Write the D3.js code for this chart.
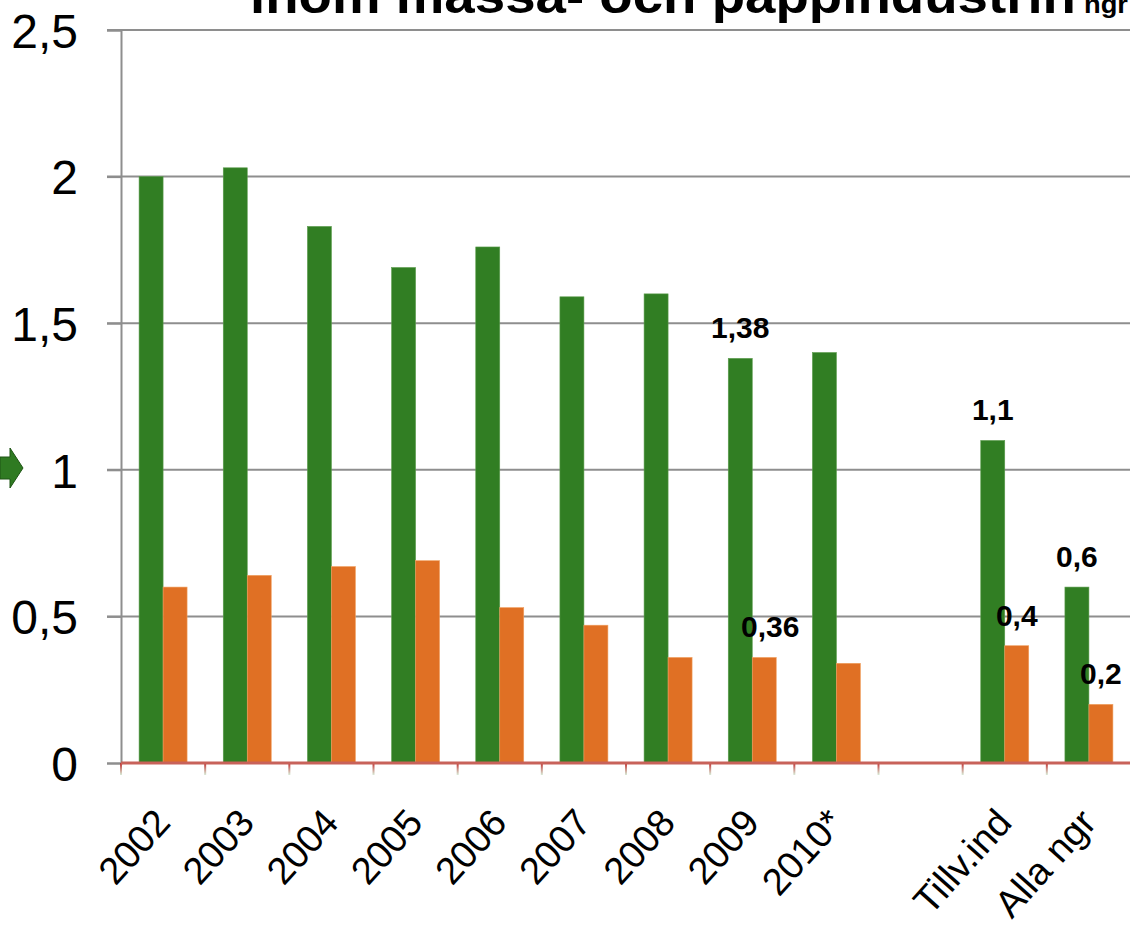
<!DOCTYPE html>
<html><head><meta charset="utf-8">
<script src="https://cdn.jsdelivr.net/npm/d3@7"></script>
<style>body{margin:0;background:#fff}svg{display:block;font-family:Arial,"Liberation Sans",sans-serif}</style>
</head><body>
<svg id="chart" width="1130" height="930"></svg>
<script>
const categories = ["2002","2003","2004","2005","2006","2007","2008","2009","2010*","","Tillv.ind","Alla ngr"];
const greenValues  = [2.00,2.03,1.83,1.69,1.76,1.59,1.60,1.38,1.40,null,1.10,0.60];
const orangeValues = [0.60,0.64,0.67,0.69,0.53,0.47,0.36,0.36,0.34,null,0.40,0.20];
const greenLabels  = [null,null,null,null,null,null,null,"1,38",null,null,"1,1","0,6"];
const orangeLabels = [null,null,null,null,null,null,null,"0,36",null,null,"0,4","0,2"];
const yTickValues  = [0,0.5,1,1.5,2,2.5];
const yTickLabels  = ["0","0,5","1","1,5","2","2,5"];
const titleMain = "inom massa- och pappindustrin";
const titleSub = "ngr";
const seriesKeys = ["green","orange"];
const seriesColors = {green:"#317e23", orange:"#e07024"};

const svg = d3.select("#chart");
const mLeft = 121, mRight = 1131, mTop = 30, mBottom = 763;

const x = d3.scaleBand().domain(categories).range([mLeft, mRight]).padding(0);
const xs = d3.scaleBand().domain(seriesKeys).range([0, x.bandwidth()]).paddingInner(0).paddingOuter(0.754);
const y = d3.scaleLinear().domain([0, 2.5]).range([mBottom, mTop]);

// title (cut off at top, as in the source image)
svg.append("text").attr("x", 250).attr("y", 13)
  .attr("font-size", 50).attr("font-weight", "bold")
  .attr("textLength", 826).attr("lengthAdjust", "spacingAndGlyphs")
  .text(titleMain);
svg.append("text").attr("x", 1084).attr("y", 13)
  .attr("font-size", 26).attr("font-weight", "bold")
  .attr("textLength", 44).attr("lengthAdjust", "spacingAndGlyphs")
  .text(titleSub);

// gridlines
svg.append("g").selectAll("line").data(yTickValues.filter(d => d > 0)).join("line")
  .attr("x1", 107).attr("x2", 1130)
  .attr("y1", d => y(d)).attr("y2", d => y(d))
  .attr("stroke", "#8e8e8e").attr("stroke-width", 2);

// y axis
const yAxis = d3.axisLeft(y).tickValues(yTickValues)
  .tickFormat((d, i) => yTickLabels[i]).tickSize(14).tickPadding(29);
const gy = svg.append("g").attr("transform", `translate(${mLeft},0)`).call(yAxis);
gy.select(".domain").attr("stroke", "#8e8e8e").attr("stroke-width", 2);
gy.selectAll(".tick line").attr("stroke", "#8e8e8e").attr("stroke-width", 2);
gy.selectAll(".tick text").attr("font-size", 48).attr("fill", "#000")
  .attr("font-family", "Arial, 'Liberation Sans', sans-serif").attr("dy", "0.36em");

// bars
const rows = categories.map((c, i) => ({c, green: greenValues[i], orange: orangeValues[i], gl: greenLabels[i], ol: orangeLabels[i]}));
const groups = svg.append("g").selectAll("g").data(rows).join("g")
  .attr("transform", d => `translate(${x(d.c)},0)`);
groups.selectAll("rect").data(d => seriesKeys.map(k => ({k, v: d[k]})).filter(e => e.v != null)).join("rect")
  .attr("x", e => xs(e.k)).attr("width", xs.bandwidth())
  .attr("y", e => y(e.v)).attr("height", e => y(0) - y(e.v))
  .attr("fill", e => seriesColors[e.k])
  .attr("stroke", e => e.k === "green" ? "#5c9c4d" : "#f0a060").attr("stroke-width", 0.6);

// data labels
groups.selectAll("text.lbl").data(d => [{k:"green", v:d.green, t:d.gl},{k:"orange", v:d.orange, t:d.ol}].filter(e => e.t)).join("text")
  .attr("class", "lbl")
  .attr("x", e => xs(e.k) + xs.bandwidth() / 2 + (e.t === "0,36" ? 6 : 0))
  .attr("y", e => y(e.v) - 20)
  .attr("text-anchor", "middle").attr("font-size", 30).attr("font-weight", "bold")
  .text(e => e.t);

// x axis
const xAxis = d3.axisBottom(x).tickSize(0).tickPadding(0);
const gx = svg.append("g").attr("transform", `translate(0,${mBottom})`).call(xAxis);
gx.select(".domain").remove();
gx.selectAll(".tick text").attr("font-size", 38).attr("fill", "#000")
  .attr("font-family", "Arial, 'Liberation Sans', sans-serif")
  .attr("y", 0).attr("dy", 0).attr("text-anchor", "end")
  .attr("transform", "translate(9,61) rotate(-48)");

// zero line (red) and boundary ticks
const defs = svg.append("defs");
const grad = defs.append("linearGradient").attr("id", "tickGrad").attr("x1", 0).attr("x2", 0).attr("y1", 0).attr("y2", 1);
grad.append("stop").attr("offset", "0%").attr("stop-color", "#c03030");
grad.append("stop").attr("offset", "100%").attr("stop-color", "#d8ecd8");
svg.append("g").selectAll("rect").data(categories.concat(["__end"])).join("rect")
  .attr("x", d => (d === "__end" ? mRight : x(d)) - 1).attr("y", mBottom)
  .attr("width", 2).attr("height", 12).attr("fill", "url(#tickGrad)");
svg.append("line").attr("x1", mLeft).attr("x2", 1130).attr("y1", mBottom).attr("y2", mBottom)
  .attr("stroke", "#c8625a").attr("stroke-width", 3);

// green arrow at left edge
svg.append("path")
  .attr("d", "M0,457 L10,457 L10,448 L23,468 L10,488 L10,479 L0,479 Z")
  .attr("fill", "#2f7a22").attr("stroke", "#1e5514").attr("stroke-width", 1);
</script>
</body></html>
